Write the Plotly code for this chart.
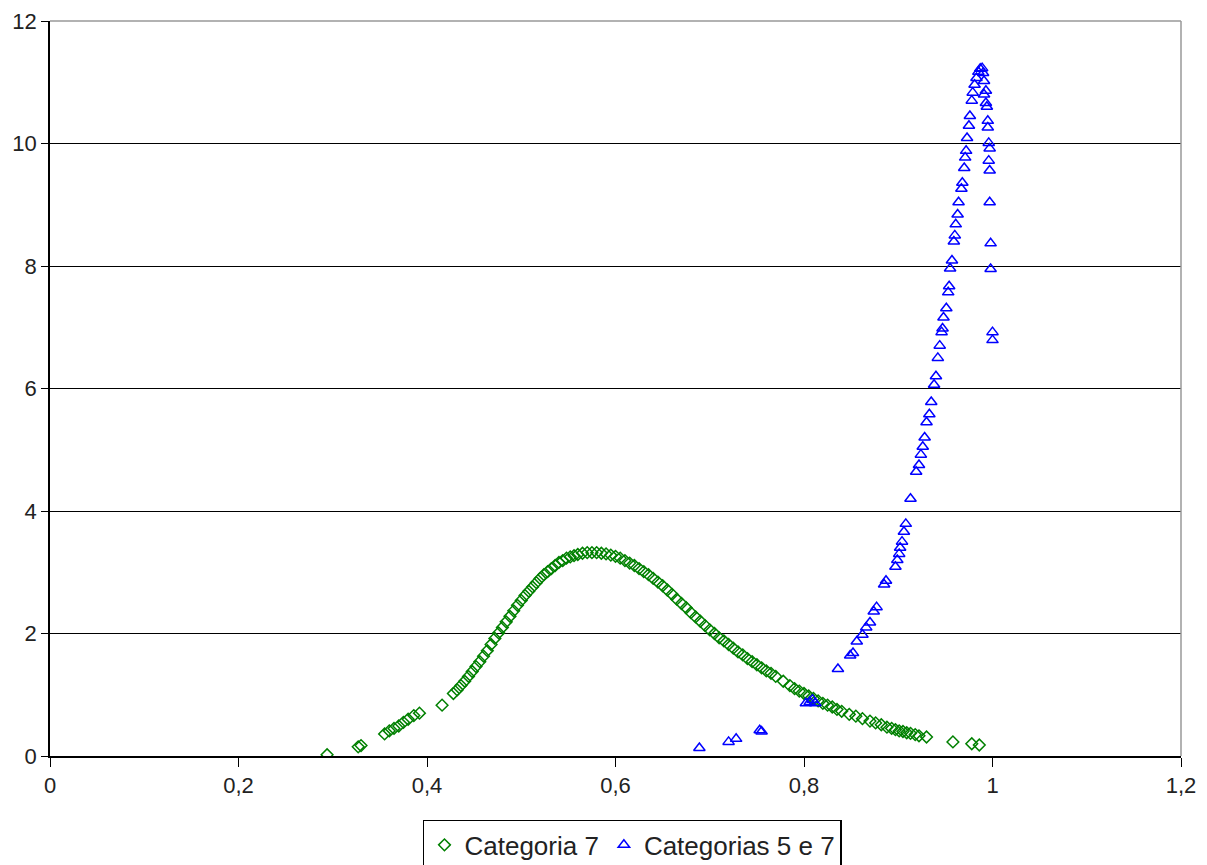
import plotly.graph_objects as go

# Categoria 7 (green diamonds)
cat7_x = [0.294, 0.327, 0.330, 0.355, 0.360, 0.365, 0.370, 0.375, 0.380, 0.386, 0.392, 0.416,
          0.428, 0.432, 0.436, 0.440, 0.444, 0.448, 0.452, 0.456, 0.460, 0.464, 0.468, 0.472,
          0.476, 0.480, 0.484, 0.488, 0.492, 0.496, 0.500, 0.504, 0.508, 0.512, 0.516, 0.520,
          0.524, 0.528, 0.532, 0.536, 0.540, 0.544, 0.548, 0.552, 0.556, 0.560, 0.565, 0.570,
          0.575, 0.580, 0.585, 0.590, 0.595, 0.600, 0.605, 0.610, 0.615, 0.620, 0.625, 0.630,
          0.635, 0.640, 0.645, 0.650, 0.655, 0.660, 0.665, 0.670, 0.675, 0.680, 0.685, 0.690,
          0.695, 0.700, 0.705, 0.710, 0.715, 0.720, 0.725, 0.730, 0.735, 0.740, 0.745, 0.750,
          0.755, 0.760, 0.765, 0.770, 0.778, 0.785, 0.790, 0.795, 0.800, 0.805, 0.810, 0.815,
          0.820, 0.825, 0.830, 0.835, 0.840, 0.848, 0.855, 0.862, 0.870, 0.876, 0.882, 0.888,
          0.893, 0.897, 0.901, 0.905, 0.909, 0.913, 0.918, 0.922, 0.930, 0.958, 0.978, 0.986]
cat7_y = [0.02, 0.15, 0.17, 0.36, 0.41, 0.45, 0.49, 0.55, 0.60, 0.66, 0.70, 0.83,
          1.02, 1.08, 1.15, 1.22, 1.30, 1.38, 1.46, 1.54, 1.63, 1.72, 1.82, 1.92,
          2.01, 2.10, 2.19, 2.28, 2.37, 2.46, 2.54, 2.62, 2.69, 2.76, 2.83, 2.90,
          2.96, 3.01, 3.06, 3.11, 3.16, 3.19, 3.23, 3.25, 3.27, 3.29, 3.31, 3.32,
          3.32, 3.32, 3.31, 3.30, 3.28, 3.26, 3.23, 3.19, 3.15, 3.11, 3.06, 3.01,
          2.96, 2.90, 2.84, 2.78, 2.71, 2.64, 2.56, 2.49, 2.42, 2.34, 2.27, 2.20,
          2.13, 2.06, 2.00, 1.93, 1.88, 1.82, 1.76, 1.70, 1.65, 1.59, 1.54, 1.49,
          1.44, 1.39, 1.35, 1.30, 1.22, 1.15, 1.10, 1.06, 1.02, 0.98, 0.94, 0.90,
          0.86, 0.83, 0.80, 0.76, 0.73, 0.68, 0.65, 0.61, 0.57, 0.54, 0.51, 0.47,
          0.45, 0.43, 0.41, 0.40, 0.38, 0.37, 0.35, 0.33, 0.31, 0.23, 0.20, 0.18]

# Categorias 5 e 7 (blue triangles)
cat57_x = [0.689, 0.720, 0.728, 0.753, 0.755, 0.802, 0.806, 0.809, 0.812, 0.836, 0.849, 0.852,
           0.856, 0.862, 0.866, 0.870, 0.874, 0.877, 0.885, 0.887, 0.897, 0.899, 0.901, 0.902,
           0.904, 0.906, 0.908, 0.913, 0.919, 0.922, 0.924, 0.926, 0.928, 0.930, 0.933, 0.935,
           0.938, 0.940, 0.942, 0.944, 0.946, 0.947, 0.948, 0.951, 0.953, 0.954, 0.955, 0.957,
           0.959, 0.960, 0.961, 0.963, 0.964, 0.967, 0.968, 0.970, 0.971, 0.972, 0.973, 0.975,
           0.976, 0.978, 0.979, 0.981, 0.983, 0.985, 0.987, 0.989, 0.990, 0.991, 0.993, 0.991,
           0.993, 0.994, 0.995, 0.995, 0.996, 0.997, 0.996, 0.997, 0.997, 0.998, 0.998, 1.000,
           1.000]
cat57_y = [0.13, 0.23, 0.28, 0.42, 0.40, 0.86, 0.88, 0.92, 0.86, 1.42, 1.64, 1.68,
           1.87, 1.98, 2.10, 2.18, 2.36, 2.43, 2.80, 2.86, 3.09, 3.20, 3.30, 3.40,
           3.50, 3.66, 3.79, 4.20, 4.64, 4.75, 4.92, 5.05, 5.20, 5.45, 5.58, 5.78,
           6.06, 6.20, 6.50, 6.70, 6.92, 6.98, 7.16, 7.31, 7.57, 7.67, 7.96, 8.09,
           8.40, 8.50, 8.68, 8.84, 9.04, 9.26, 9.36, 9.60, 9.77, 9.88, 10.09, 10.29,
           10.45, 10.70, 10.83, 10.96, 11.07, 11.17, 11.22, 11.23, 11.15, 11.02, 10.86, 10.80,
           10.66, 10.60, 10.37, 10.26, 10.01, 9.92, 9.72, 9.56, 9.04, 8.37, 7.95, 6.92,
           6.79]

FONT = "Liberation Sans, Arial, sans-serif"
TXT = "#222222"

fig = go.Figure()
fig.add_trace(go.Scatter(
    x=cat7_x, y=cat7_y, mode="markers", name="Categoria 7",
    marker=dict(symbol="diamond-open", size=9, color="#008000", line=dict(width=1.5, color="#008000")),
))
fig.add_trace(go.Scatter(
    x=cat57_x, y=cat57_y, mode="markers", name="Categorias 5 e 7",
    marker=dict(symbol="triangle-up-open", size=10, color="#0000FF", line=dict(width=1.5, color="#0000FF")),
))

fig.update_layout(
    width=1207, height=865,
    margin=dict(l=42, r=34, t=13, b=117, pad=0, autoexpand=False),
    paper_bgcolor="white", plot_bgcolor="white",
    separators=",.",
    font=dict(family=FONT, size=22, color=TXT),
    showlegend=True,
    legend=dict(
        orientation="h", x=0.515, xanchor="center", y=-0.087, yanchor="top",
        bordercolor="black", borderwidth=1.5, bgcolor="white",
        font=dict(family=FONT, size=26, color=TXT),
        tracegroupgap=0,
    ),
    xaxis=dict(
        range=[0, 1.2], dtick=0.2, tick0=0, showgrid=False, zeroline=False,
        showline=True, linecolor="black", linewidth=1.5, automargin=False,
        ticks="outside", ticklen=9, tickcolor="black", ticklabeloverflow="allow",
        tickfont=dict(family=FONT, size=22, color=TXT),
    ),
    yaxis=dict(
        range=[0, 12], dtick=2, tick0=0, showgrid=True, gridcolor="black", gridwidth=1,
        zeroline=False, showline=True, linecolor="black", linewidth=1.5, automargin=False,
        ticks="outside", ticklen=7, tickcolor="black", ticklabeloverflow="allow",
        tickfont=dict(family=FONT, size=22, color=TXT),
    ),
    shapes=[
        dict(type="line", xref="paper", yref="paper", x0=0, x1=1, y0=1, y1=1,
             line=dict(color="#999999", width=1.5), layer="above"),
        dict(type="line", xref="paper", yref="paper", x0=1, x1=1, y0=0, y1=1,
             line=dict(color="#999999", width=1.5), layer="above"),
    ],
)

fig.write_html("out.html")
